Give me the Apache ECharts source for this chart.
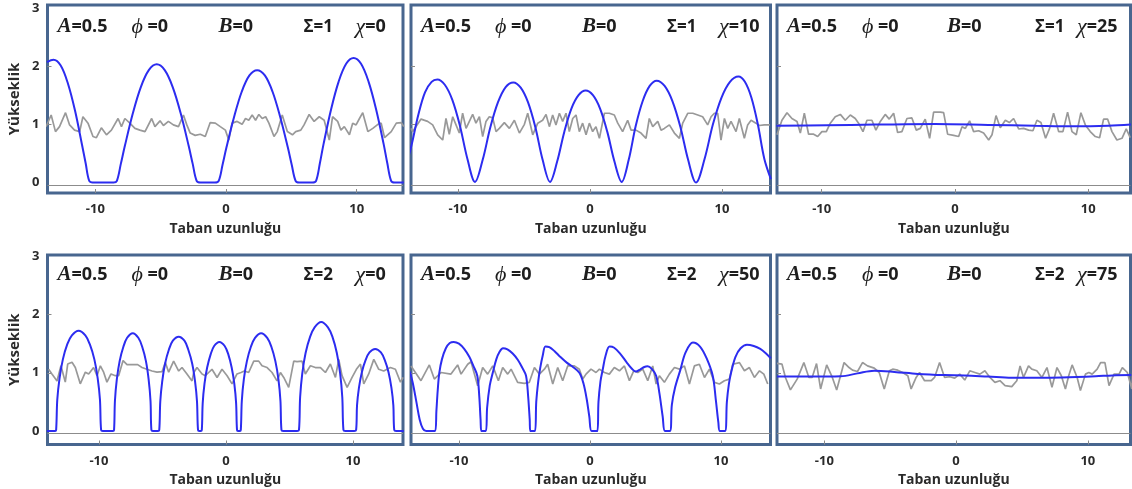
<!DOCTYPE html>
<html>
<head>
<meta charset="utf-8">
<script src="https://cdn.jsdelivr.net/npm/echarts@6/dist/echarts.min.js"></script>
<style>
  html, body { margin: 0; padding: 0; background: #fff; }
  #chart { width: 1132px; height: 489px; }
</style>
</head>
<body>
<div id="chart"></div>
<script>
// ---- tick labels and panel parameters ----
const xTicks = [-10, 0, 10];
const yTicks = [0, 1, 2, 3];
const ampVal = '0.5';
const phiVal = '0';
const bVal = '0';
const sigmaVals = [1, 1, 1, 2, 2, 2];
const chiVals = [0, 10, 25, 0, 50, 75];

// ---- dune height profiles (blue), [x, height] ----
const duneS1X0 = [[-13.7,2.07],[-13.2,2.11],[-12.65,2.01],[-12.11,1.71],[-11.56,1.24],[-11.02,0.65],[-10.74,0.33],[-10.47,0.03],[-10.2,0],[-8.6,0],[-8.35,0.03],[-8.05,0.32],[-7.74,0.63],[-7.13,1.19],[-6.52,1.64],[-5.91,1.93],[-5.3,2.03],[-4.69,1.93],[-4.08,1.64],[-3.47,1.19],[-2.86,0.63],[-2.55,0.32],[-2.25,0.03],[-1.95,0],[-0.85,0],[-0.56,0.03],[-0.27,0.30],[0.03,0.60],[0.62,1.13],[1.2,1.56],[1.79,1.84],[2.38,1.93],[2.97,1.84],[3.56,1.56],[4.14,1.13],[4.73,0.60],[5.03,0.30],[5.32,0.03],[5.6,0],[6.6,0],[6.89,0.03],[7.18,0.33],[7.46,0.66],[8.04,1.26],[8.61,1.73],[9.19,2.04],[9.76,2.14],[10.33,2.04],[10.91,1.73],[11.48,1.26],[12.06,0.66],[12.34,0.33],[12.63,0.03],[12.9,0],[13.6,0]];
const duneS1X10 = [[-13.8,0.40],[-13.5,0.66],[-13.0,1.17],[-12.5,1.55],[-12.0,1.73],[-11.57,1.77],[-11.0,1.68],[-10.43,1.42],[-9.86,0.98],[-9.28,0.40],[-8.71,0.01],[-8.13,0.39],[-7.55,0.95],[-6.97,1.38],[-6.39,1.64],[-5.81,1.72],[-5.25,1.63],[-4.7,1.38],[-4.14,0.95],[-3.59,0.39],[-3.03,0.01],[-2.49,0.36],[-1.95,0.87],[-1.41,1.27],[-0.87,1.50],[-0.33,1.58],[0.22,1.50],[0.76,1.27],[1.31,0.87],[1.85,0.36],[2.40,0.01],[2.93,0.39],[3.46,0.97],[3.99,1.40],[4.52,1.66],[5.05,1.75],[5.65,1.66],[6.24,1.40],[6.84,0.96],[7.43,0.39],[8.03,0.0],[8.67,0.40],[9.31,1.0],[9.96,1.46],[10.6,1.73],[11.24,1.82],[11.73,1.73],[12.22,1.46],[12.71,1.0],[13.2,0.41],[13.7,0.06]];
const duneS1X25 = [[-13.4,0.975],[-9.6,0.985],[-6,0.995],[-1.5,1.005],[2.5,0.99],[6,0.975],[9,0.965],[11.5,0.975],[13.2,0.995]];
const duneS2X0 = [[-14.1,0],[-13.45,0],[-13.37,0.02],[-13.28,0.54],[-13.1,0.91],[-12.84,1.23],[-12.49,1.49],[-12.13,1.64],[-11.6,1.72],[-11.07,1.64],[-10.72,1.49],[-10.36,1.23],[-10.1,0.91],[-9.92,0.54],[-9.83,0.02],[-9.7,0],[-8.9,0],[-8.81,0.02],[-8.74,0.52],[-8.59,0.89],[-8.37,1.2],[-8.07,1.45],[-7.78,1.6],[-7.335,1.68],[-6.9,1.6],[-6.6,1.45],[-6.3,1.2],[-6.09,0.89],[-5.94,0.52],[-5.87,0.02],[-5.75,0],[-5.35,0],[-5.25,0.02],[-5.17,0.51],[-5.02,0.85],[-4.79,1.16],[-4.49,1.40],[-4.18,1.55],[-3.725,1.62],[-3.27,1.55],[-2.97,1.40],[-2.66,1.16],[-2.43,0.85],[-2.28,0.51],[-2.2,0.02],[-2.1,0],[-1.98,0],[-1.9,0.02],[-1.83,0.48],[-1.69,0.81],[-1.48,1.09],[-1.2,1.32],[-0.93,1.46],[-0.515,1.53],[-0.1,1.46],[0.18,1.32],[0.45,1.09],[0.66,0.81],[0.8,0.48],[0.87,0.02],[0.95,0],[1.1,0],[1.17,0.02],[1.25,0.52],[1.41,0.89],[1.65,1.2],[1.97,1.45],[2.29,1.6],[2.77,1.68],[3.25,1.6],[3.57,1.45],[3.89,1.2],[4.13,0.89],[4.29,0.52],[4.37,0.02],[4.5,0],[5.6,0],[5.75,0.02],[5.84,0.58],[6.01,0.99],[6.27,1.34],[6.63,1.62],[6.98,1.78],[7.5,1.87],[8.03,1.78],[8.38,1.62],[8.73,1.34],[8.99,0.99],[9.16,0.58],[9.25,0.02],[9.4,0],[10.1,0],[10.25,0.02],[10.32,0.44],[10.47,0.74],[10.7,1.01],[11.0,1.22],[11.3,1.35],[11.75,1.41],[12.2,1.35],[12.5,1.22],[12.8,1.01],[13.03,0.74],[13.18,0.44],[13.25,0.02],[13.4,0],[14.0,0]];
const duneS2X50 = [[-13.75,1.02],[-13.5,0.8],[-13.25,0.5],[-13.0,0.2],[-12.75,0.04],[-12.5,0],[-11.82,0],[-11.72,0.35],[-11.62,0.7],[-11.5,1.0],[-11.3,1.23],[-11.0,1.42],[-10.7,1.51],[-10.4,1.53],[-10.0,1.5],[-9.6,1.41],[-9.2,1.27],[-8.9,1.12],[-8.6,0.95],[-8.45,0.6],[-8.35,0.2],[-8.28,0],[-7.95,0],[-7.85,0.4],[-7.65,0.78],[-7.42,1.0],[-7.15,1.23],[-6.9,1.36],[-6.64,1.42],[-6.3,1.4],[-5.9,1.33],[-5.5,1.22],[-5.15,1.08],[-4.88,0.95],[-4.72,0.6],[-4.6,0.2],[-4.55,0],[-4.2,0],[-4.1,0.5],[-3.95,0.85],[-3.8,1.08],[-3.6,1.3],[-3.4,1.45],[-3.1,1.44],[-2.7,1.37],[-2.3,1.28],[-1.75,1.17],[-1.3,1.1],[-0.81,1.0],[-0.5,0.82],[-0.25,0.55],[-0.05,0.25],[0.13,0],[0.56,0],[0.65,0.5],[0.8,0.85],[0.97,1.05],[1.2,1.3],[1.5,1.45],[1.85,1.43],[2.3,1.33],[2.8,1.18],[3.2,1.07],[3.5,1.02],[3.85,1.06],[4.15,1.1],[4.4,1.11],[4.7,1.07],[5.05,0.95],[5.3,0.65],[5.55,0.25],[5.73,0],[6.1,0],[6.25,0.45],[6.5,0.75],[6.9,1.05],[7.3,1.35],[7.86,1.52],[8.4,1.45],[8.9,1.25],[9.37,0.95],[9.6,0.55],[9.8,0.15],[9.92,0],[10.3,0],[10.45,0.5],[10.6,0.8],[10.77,1.0],[11.1,1.27],[11.5,1.42],[11.98,1.48],[12.5,1.46],[13.0,1.41],[13.4,1.34],[13.8,1.25]];
const duneS2X75 = [[-13.59,0.935],[-11.04,0.935],[-8.75,0.94],[-7.48,0.99],[-6.21,1.035],[-4.68,1.015],[-2.9,0.98],[-0.87,0.96],[0.66,0.955],[2.44,0.935],[4.23,0.915],[6.26,0.915],[8.04,0.92],[10.59,0.94],[11.86,0.955],[13.3,0.96]];

// ---- rough bed input (grey), [x, value] ----
const bedS1X0 = [[-13.77,0.96],[-13.38,1.16],[-13.05,0.875],[-12.74,0.96],[-12.28,1.2],[-11.97,0.99],[-11.59,0.90],[-11.2,0.875],[-10.95,1.13],[-10.56,1.02],[-10.18,0.79],[-9.92,0.77],[-9.54,0.94],[-9.15,0.82],[-8.77,0.90],[-8.26,1.10],[-8.0,0.96],[-7.74,1.10],[-7.36,1.02],[-6.97,0.93],[-6.59,0.90],[-6.2,0.875],[-5.69,1.10],[-5.44,0.96],[-5.05,1.06],[-4.79,0.98],[-4.41,1.05],[-4.03,0.99],[-3.64,0.96],[-3.26,1.16],[-3.0,0.99],[-2.74,0.85],[-2.36,0.81],[-1.97,0.83],[-1.59,0.79],[-1.21,1.03],[-0.82,1.02],[-0.44,0.96],[-0.05,0.90],[0.21,0.73],[0.46,1.02],[0.85,1.05],[1.23,1.0],[1.49,1.10],[1.74,1.07],[2.0,1.16],[2.26,1.07],[2.51,1.17],[2.77,1.10],[3.03,1.13],[3.28,1.02],[3.67,0.79],[3.92,0.875],[4.3,1.16],[4.69,0.875],[5.08,0.82],[5.33,0.875],[5.72,0.90],[5.97,0.99],[6.36,1.17],[6.74,1.05],[7.13,1.13],[7.51,1.07],[7.9,0.73],[8.15,1.13],[8.54,1.05],[8.79,0.90],[9.05,0.96],[9.44,0.82],[9.69,1.02],[9.95,0.99],[10.21,1.10],[10.46,1.2],[10.85,0.875],[11.23,0.93],[11.62,1.0],[11.87,1.02],[12.13,0.77],[12.64,0.875],[13.03,1.02],[13.41,1.03],[13.6,0.96]];
const bedS1X10 = [[-13.56,0.93],[-13.43,0.875],[-12.8,1.09],[-12.3,1.05],[-11.92,0.99],[-11.54,0.82],[-11.16,0.73],[-10.91,1.10],[-10.66,0.83],[-10.4,1.13],[-10.15,0.99],[-9.9,0.85],[-9.65,1.19],[-9.39,0.93],[-9.14,1.05],[-8.89,1.17],[-8.64,1.02],[-8.38,1.13],[-8.13,0.79],[-7.88,1.05],[-7.63,1.13],[-7.37,1.11],[-7.12,0.875],[-6.87,0.93],[-6.49,1.03],[-6.11,0.93],[-5.73,1.07],[-5.35,0.85],[-4.97,1.0],[-4.72,1.19],[-4.34,0.82],[-3.96,1.02],[-3.59,1.07],[-3.33,1.17],[-3.08,0.96],[-2.83,1.16],[-2.58,0.99],[-2.32,1.19],[-2.07,1.05],[-1.82,1.19],[-1.57,0.875],[-1.31,1.10],[-1.06,1.16],[-0.81,0.875],[-0.56,1.02],[-0.3,0.82],[-0.05,1.02],[0.2,0.875],[0.45,0.96],[0.71,0.76],[1.09,1.19],[1.46,1.19],[1.84,1.16],[2.1,1.02],[2.47,0.875],[2.85,1.07],[3.11,0.90],[3.48,0.90],[3.86,0.85],[4.24,0.76],[4.49,1.10],[4.75,0.96],[5.13,1.05],[5.38,0.90],[5.63,0.93],[6.01,0.99],[6.39,0.85],[6.77,0.76],[7.02,1.02],[7.4,1.19],[7.78,1.19],[8.16,1.16],[8.53,1.13],[8.91,0.99],[9.17,1.13],[9.42,1.19],[9.67,1.19],[9.92,0.73],[10.18,1.10],[10.43,0.93],[10.68,1.05],[11.06,0.875],[11.31,1.10],[11.69,0.76],[11.94,0.99],[12.2,1.07],[12.57,1.02],[12.83,0.98],[13.2,0.99],[13.63,0.99]];
const bedS1X25 = [[-13.35,0.82],[-13.23,0.90],[-12.98,1.07],[-12.6,1.20],[-12.23,1.10],[-11.85,1.05],[-11.6,0.85],[-11.3,1.19],[-10.98,0.83],[-10.6,0.83],[-10.3,0.79],[-9.98,0.875],[-9.65,0.875],[-9.35,1.02],[-8.98,1.13],[-8.6,1.17],[-8.23,1.07],[-7.85,1.16],[-7.48,1.10],[-7.23,1.02],[-6.9,0.875],[-6.6,1.07],[-6.23,1.07],[-5.93,0.90],[-5.6,1.05],[-5.23,1.17],[-4.93,1.09],[-4.6,1.19],[-4.3,0.86],[-3.98,0.875],[-3.6,1.10],[-3.23,1.11],[-2.9,0.90],[-2.6,0.93],[-2.23,1.09],[-1.9,0.76],[-1.6,1.21],[-1.1,1.21],[-0.85,1.20],[-0.55,0.83],[-0.1,0.81],[0.28,0.79],[0.53,0.96],[0.78,0.93],[1.1,1.06],[1.4,0.875],[1.78,0.89],[2.15,0.85],[2.53,0.73],[2.78,0.82],[3.08,1.15],[3.4,0.94],[3.78,1.07],[4.08,1.03],[4.4,1.10],[4.78,0.92],[5.15,0.93],[5.53,0.90],[5.85,0.89],[6.15,1.07],[6.45,1.03],[6.8,0.76],[7.1,0.93],[7.4,1.19],[7.78,0.875],[8.1,0.875],[8.45,1.21],[8.78,0.875],[9.1,0.82],[9.45,1.20],[9.78,0.99],[10.15,0.875],[10.53,0.79],[10.85,0.77],[11.15,1.09],[11.45,1.09],[11.78,0.875],[12.15,0.73],[12.53,0.76],[12.85,0.92],[13.15,0.77]];
const bedS2X0 = [[-13.96,1.06],[-13.7,0.98],[-13.3,0.86],[-12.99,1.12],[-12.65,0.84],[-12.46,1.15],[-12.12,1.18],[-11.86,1.09],[-11.47,0.81],[-11.07,1.01],[-10.81,0.98],[-10.42,1.09],[-10.15,0.95],[-9.89,1.12],[-9.63,1.01],[-9.37,0.84],[-9.05,0.98],[-8.71,0.95],[-8.45,0.95],[-8.1,1.21],[-7.79,1.14],[-7.32,1.14],[-6.95,1.14],[-6.61,1.09],[-6.22,1.06],[-5.82,1.03],[-5.43,1.01],[-5.03,1.02],[-4.77,1.175],[-4.51,1.01],[-4.12,1.2],[-3.72,1.03],[-3.46,1.09],[-3.07,0.98],[-2.67,0.86],[-2.54,1.0],[-2.28,1.09],[-1.88,0.98],[-1.62,0.95],[-1.36,1.005],[-1.1,1.06],[-0.7,0.92],[-0.31,1.06],[0.09,0.95],[0.48,0.81],[0.87,0.98],[1.19,1.005],[1.45,1.03],[1.79,1.005],[2.19,1.2],[2.58,1.2],[2.84,1.12],[3.24,1.09],[3.63,1.005],[4.02,0.86],[4.29,1.005],[4.55,0.92],[4.94,0.75],[5.34,1.2],[5.6,1.19],[5.99,1.2],[6.25,0.98],[6.65,1.12],[7.04,1.09],[7.44,1.09],[7.83,1.005],[8.22,1.15],[8.62,0.92],[8.88,1.23],[9.14,0.95],[9.54,0.75],[9.93,0.92],[10.27,1.06],[10.59,1.15],[10.85,0.81],[11.24,0.98],[11.64,1.23],[12.03,1.06],[12.42,1.03],[12.95,1.09],[13.34,1.06],[13.74,0.84],[13.95,0.92]];
const bedS2X50 = [[-13.66,1.118],[-13.53,1.09],[-12.9,0.864],[-12.26,1.135],[-11.88,0.892],[-11.37,1.005],[-10.61,0.977],[-10.1,1.135],[-9.84,0.977],[-9.33,1.147],[-9.08,1.19],[-8.57,0.779],[-8.19,1.09],[-7.81,0.977],[-7.42,1.118],[-6.99,0.864],[-6.66,1.09],[-6.28,0.977],[-6.02,1.062],[-5.52,0.836],[-5.01,0.819],[-4.63,0.836],[-4.24,1.09],[-3.86,0.977],[-3.48,1.062],[-3.23,1.147],[-2.84,0.808],[-2.46,1.09],[-2.08,0.864],[-1.7,1.118],[-1.19,1.118],[-0.81,1.062],[-0.55,0.892],[-0.3,0.977],[0.08,1.062],[0.46,1.005],[0.72,1.062],[1.1,1.005],[1.48,0.977],[1.86,1.09],[2.25,1.034],[2.63,1.118],[3.01,0.864],[3.34,1.034],[3.65,1.005],[4.03,1.062],[4.41,0.864],[4.79,1.118],[5.05,0.808],[5.3,0.949],[5.68,0.836],[6.06,0.977],[6.45,1.09],[6.83,1.062],[7.21,1.118],[7.59,0.808],[7.97,1.118],[8.35,1.147],[8.74,0.92],[9.12,1.062],[9.5,0.836],[9.88,0.808],[10.26,0.864],[10.64,0.892],[10.9,1.147],[11.41,1.175],[11.79,1.034],[12.17,1.09],[12.55,0.92],[12.94,1.034],[13.27,0.977],[13.57,0.808]];
const bedS2X75 = [[-13.59,1.16],[-13.46,1.175],[-13.21,1.147],[-12.95,0.92],[-12.57,0.706],[-12.06,0.892],[-11.55,1.175],[-11.17,0.92],[-10.92,0.92],[-10.59,1.158],[-10.28,0.723],[-9.82,1.135],[-9.39,0.92],[-9.06,0.706],[-8.5,1.175],[-8.12,1.09],[-7.86,1.045],[-7.48,1.022],[-7.1,1.175],[-6.72,1.118],[-6.21,1.079],[-5.83,1.005],[-5.45,0.723],[-5.06,1.034],[-4.81,1.062],[-4.43,1.045],[-4.05,1.005],[-3.66,0.949],[-3.41,0.723],[-3.03,0.92],[-2.77,1.005],[-2.39,0.864],[-1.88,0.864],[-1.63,0.92],[-1.25,1.175],[-0.87,0.92],[-0.48,0.932],[-0.1,0.909],[0.28,0.977],[0.66,0.875],[1.04,1.034],[1.43,1.005],[1.81,0.977],[2.19,1.034],[2.57,0.92],[2.95,0.836],[3.33,0.864],[3.72,0.779],[4.23,0.762],[4.61,0.864],[4.86,1.118],[5.12,0.92],[5.5,1.118],[5.75,1.062],[6.13,1.034],[6.52,0.92],[6.9,1.09],[7.28,0.751],[7.66,1.09],[7.99,0.949],[8.3,0.723],[8.55,0.949],[8.81,1.135],[9.19,0.92],[9.44,0.695],[9.82,0.977],[10.08,1.005],[10.33,0.977],[10.71,1.062],[10.97,1.175],[11.3,1.175],[11.61,0.779],[11.99,0.977],[12.37,0.977],[12.62,1.09],[13.0,1.005],[13.34,0.723],[13.44,1.118]];

const dunes = [duneS1X0, duneS1X10, duneS1X25, duneS2X0, duneS2X50, duneS2X75];
const beds = [bedS1X0, bedS1X10, bedS1X25, bedS2X0, bedS2X50, bedS2X75];

// ---- panel layout (pixels) and axis windows ----
const panelBoxes = [
  { left: 47.5, top: 5, width: 355.5, height: 188 },
  { left: 411, top: 5, width: 359.5, height: 188 },
  { left: 777, top: 5, width: 353.5, height: 188 },
  { left: 47.5, top: 255, width: 355.5, height: 189.5 },
  { left: 411, top: 255, width: 359.5, height: 189.5 },
  { left: 777, top: 255, width: 353.5, height: 189.5 }
];
const xWindows = [[-13.66, 13.54], [-13.56, 13.67], [-13.35, 13.17], [-14.05, 13.94], [-13.66, 13.78], [-13.59, 13.24]];
const yWindows = [[-0.18, 3.05], [-0.18, 3.05], [-0.18, 3.05], [-0.23, 3.02], [-0.23, 3.02], [-0.23, 3.02]];
const baseLevel = -0.035;

const FRAME = '#48668f';
const BLUE = '#2c2cf0';
const GREY = '#999999';
const INK = '#2b2b2b';
const SANS = '"Open Sans", "Liberation Sans", sans-serif';
const SERIF = '"Liberation Serif", "DejaVu Serif", serif';

const grids = [], xAxes = [], yAxes = [], series = [], graphics = [];

panelBoxes.forEach((b, i) => {
  const col = i % 3;
  grids.push({
    left: b.left, top: b.top, width: b.width, height: b.height,
    show: true, borderColor: FRAME, borderWidth: 3, backgroundColor: 'transparent',
    containLabel: false
  });
  xAxes.push({
    type: 'value', gridIndex: i, min: xWindows[i][0], max: xWindows[i][1],
    axisLine: { show: false, onZero: false }, splitLine: { show: false },
    axisTick: { show: true, inside: true, length: 4, customValues: xTicks, lineStyle: { color: '#8a8a8a' } },
    axisLabel: { customValues: xTicks, fontFamily: SANS, fontWeight: 'bold', fontSize: 13, color: INK, margin: 10 },
    name: 'Taban uzunluğu', nameLocation: 'middle', nameGap: 29,
    nameTextStyle: { fontFamily: SANS, fontWeight: 'bold', fontSize: 14, color: INK }
  });
  yAxes.push({
    type: 'value', gridIndex: i, min: yWindows[i][0], max: yWindows[i][1],
    axisLine: { show: false, onZero: false }, splitLine: { show: false },
    axisTick: { show: true, inside: true, length: 4, customValues: [1, 2], lineStyle: { color: '#8a8a8a' } },
    axisLabel: { show: col === 0, customValues: yTicks, fontFamily: SANS, fontWeight: 'bold', fontSize: 13, color: INK, margin: 8 },
    name: col === 0 ? 'Yükseklik' : '', nameLocation: 'middle', nameGap: 25, nameRotate: 90,
    nameMoveOverlap: false,
    nameTextStyle: { fontFamily: SANS, fontWeight: 'bold', fontSize: 15, color: INK }
  });
  series.push({
    type: 'line', xAxisIndex: i, yAxisIndex: i, data: beds[i],
    showSymbol: false, smooth: false, clip: true, z: 2,
    lineStyle: { color: GREY, width: 1.7 },
    markLine: {
      silent: true, symbol: 'none', label: { show: false },
      lineStyle: { color: '#8c8c8c', width: 1.2, type: 'solid' },
      data: [{ yAxis: baseLevel }]
    }
  });
  series.push({
    type: 'line', xAxisIndex: i, yAxisIndex: i, data: dunes[i],
    showSymbol: false, smooth: 0.35, clip: true, z: 3,
    lineStyle: { color: BLUE, width: 2 }
  });

  // parameter annotations along the top of each panel
  const offs = col === 2 ? [10, 85, 170, 258, 300] : [10, 84, 171, 256, 308];
  const ty = b.top + (i < 3 ? 22 : 20);
  const rich = {
    it: { fontFamily: SERIF, fontStyle: 'italic', fontWeight: 'bold', fontSize: 21, fill: '#1e1e1e' },
    gr: { fontFamily: SERIF, fontStyle: 'italic', fontSize: 22, fill: '#1e1e1e' },
    sg: { fontFamily: SANS, fontWeight: 'bold', fontSize: 17, fill: '#1e1e1e' },
    nm: { fontFamily: SANS, fontWeight: 'bold', fontSize: 18, fill: '#1e1e1e' }
  };
  const texts = [
    '{it|A}{nm|=' + ampVal + '}',
    '{gr|ϕ}{nm| =' + phiVal + '}',
    '{it|B}{nm|=' + bVal + '}',
    '{sg|Σ=' + sigmaVals[i] + '}',
    '{gr|χ}{nm|=' + chiVals[i] + '}'
  ];
  texts.forEach((t, k) => {
    graphics.push({
      type: 'text', x: b.left + offs[k], y: ty, z: 10,
      style: { text: t, rich: rich, verticalAlign: 'middle', align: 'left' }
    });
  });
});

const chart = echarts.init(document.getElementById('chart'), null, { renderer: 'canvas' });
chart.setOption({
  backgroundColor: '#ffffff',
  animation: false,
  grid: grids,
  xAxis: xAxes,
  yAxis: yAxes,
  series: series,
  graphic: graphics
});
</script>
</body>
</html>
